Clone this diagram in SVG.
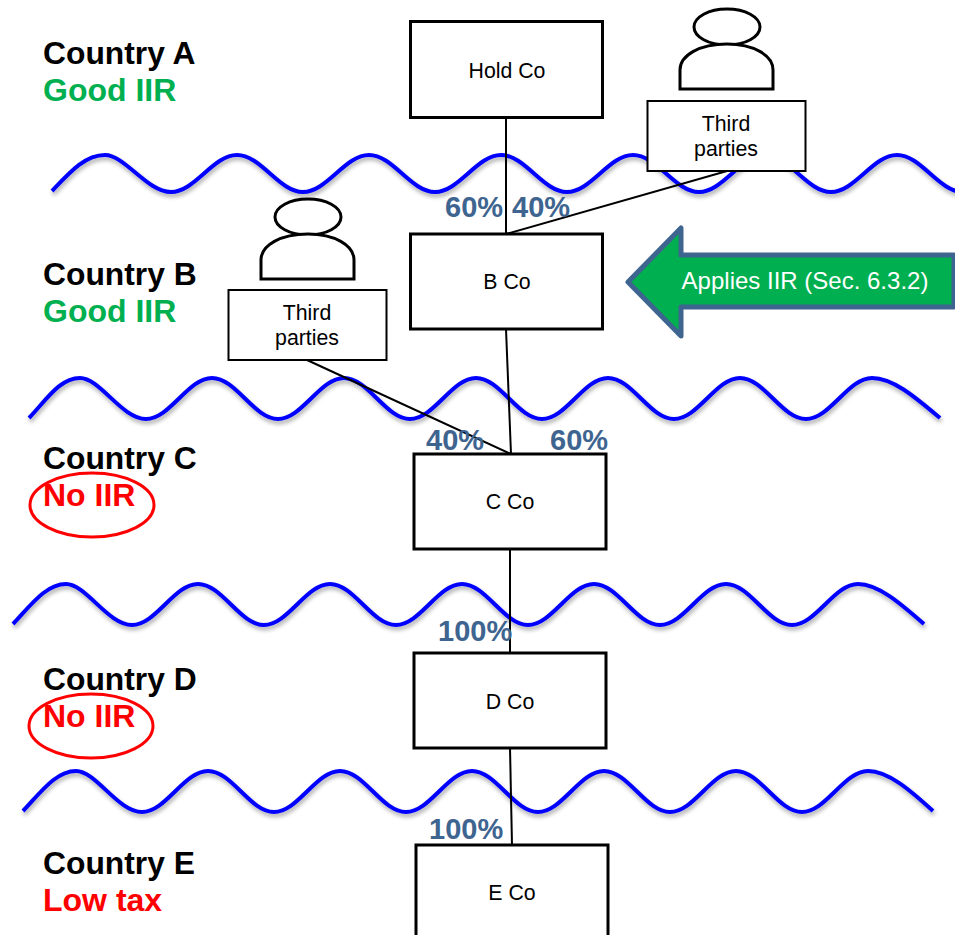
<svg xmlns="http://www.w3.org/2000/svg" xmlns:xlink="http://www.w3.org/1999/xlink" width="955" height="935" viewBox="0 0 955 935">
<style>
text{font-family:"Liberation Sans",Arial,sans-serif}
.box{fill:#fff;stroke:#000;stroke-width:3}
.tp{fill:#fff;stroke:#000;stroke-width:2}
.lbl{font-size:21.300px;fill:#000;text-anchor:middle}
.cn{font-size:31.800px;font-weight:700;fill:#000}
.good{font-size:32px;font-weight:700;fill:#00B050}
.bad{font-size:32px;font-weight:700;fill:#FF0000}
.pct{font-size:29px;font-weight:700;fill:#3E6490}
.wave{fill:none;stroke:#0000FF;stroke-width:4;filter:url(#sh)}
.conn{fill:none;stroke:#000;stroke-width:2}
.ring{fill:none;stroke:#FF0000;stroke-width:3}
.per{fill:#fff;stroke:#000;stroke-width:3}
</style>
<defs>
<filter id="sh" x="-5%" y="-30%" width="110%" height="170%">
<feDropShadow dx="1" dy="3" stdDeviation="2" flood-color="#000" flood-opacity="0.35"/>
</filter>
<g id="person">
<ellipse cx="727" cy="27" rx="33" ry="18" class="per"/>
<path d="M680 89V70C680 55 700 44 727 44C753 44 773 55 773 70V89Z" class="per"/>
</g>
</defs>
<g id="waves">
<path class="wave" d="M52 191C70 172 85 155 105 155s42 37 66 37s42 -37 66 -37s42 37 66 37s42 -37 66 -37s42 37 66 37s42 -37 66 -37s42 37 66 37s42 -37 66 -37s42 37 66 37s42 -37 66 -37s42 37 66 37s42 -37 66 -37s42 37 66 37"/>
<path class="wave" d="M29 418C47 399 60 378 80 378s42 41 66 41s42 -41 66 -41s42 41 66 41s42 -41 66 -41s42 41 66 41s42 -41 66 -41s42 41 66 41s42 -41 66 -41s42 41 66 41s42 -41 66 -41s42 41 66 41s42 -41 66 -41C893 378 915 397 940 418"/>
<path class="wave" d="M13 624C31 605 46 584 66 584s42 41 66 41s42 -41 66 -41s42 41 66 41s42 -41 66 -41s42 41 66 41s42 -41 66 -41s42 41 66 41s42 -41 66 -41s42 41 66 41s42 -41 66 -41s42 41 66 41s42 -41 66 -41C878 584 900 603 924 624"/>
<path class="wave" d="M23 811C41 792 56 771 76 771s42 41 66 41s42 -41 66 -41s42 41 66 41s42 -41 66 -41s42 41 66 41s42 -41 66 -41s42 41 66 41s42 -41 66 -41s42 41 66 41s42 -41 66 -41s42 41 66 41s42 -41 66 -41C888 771 910 790 933 811"/>
</g>
<g id="connectors">
<line class="conn" x1="506" y1="117" x2="506" y2="234"/>
<line class="conn" x1="727" y1="171" x2="506" y2="234"/>
<line class="conn" x1="506" y1="329" x2="511" y2="454"/>
<line class="conn" x1="307" y1="360" x2="511" y2="454"/>
<line class="conn" x1="510" y1="549" x2="510" y2="653"/>
<line class="conn" x1="510" y1="748" x2="512" y2="845"/>
</g>
<g id="country-a"><text class="cn" x="43" y="64">Country A</text><text class="good" x="43" y="101">Good IIR</text></g>
<g id="country-b"><text class="cn" x="43" y="285">Country B</text><text class="good" x="43" y="322">Good IIR</text></g>
<g id="country-c"><text class="cn" x="43" y="469">Country C</text><text class="bad" x="43" y="506">No IIR</text><ellipse class="ring" cx="92" cy="505" rx="62" ry="32"/></g>
<g id="country-d"><text class="cn" x="43" y="690">Country D</text><text class="bad" x="43" y="727">No IIR</text><ellipse class="ring" cx="91" cy="726" rx="62" ry="32"/></g>
<g id="country-e"><text class="cn" x="43" y="874">Country E</text><text class="bad" x="43" y="911">Low tax</text></g>
<g id="hold-co"><rect class="box" x="410.500" y="21.500" width="192" height="96"/><text class="lbl" x="507" y="78">Hold Co</text></g>
<g id="b-co"><rect class="box" x="410.500" y="234" width="192" height="95"/><text class="lbl" x="507" y="289">B Co</text></g>
<g id="c-co"><rect class="box" x="414" y="454" width="192" height="95"/><text class="lbl" x="510" y="509">C Co</text></g>
<g id="d-co"><rect class="box" x="414" y="653" width="192" height="95"/><text class="lbl" x="510" y="709">D Co</text></g>
<g id="e-co"><rect class="box" x="416" y="845" width="192" height="100"/><text class="lbl" x="512" y="900">E Co</text></g>
<g id="third-parties-1"><use xlink:href="#person" href="#person"/><rect class="tp" x="647.500" y="101" width="158" height="70"/><text class="lbl" x="726" y="131">Third</text><text class="lbl" x="726" y="156">parties</text></g>
<g id="third-parties-2"><use xlink:href="#person" href="#person" x="-419" y="190"/><rect class="tp" x="228.500" y="290" width="158" height="70"/><text class="lbl" x="307" y="320">Third</text><text class="lbl" x="307" y="345">parties</text></g>
<g id="percentages">
<text class="pct" x="445" y="217">60%</text><text class="pct" x="512" y="217">40%</text>
<text class="pct" x="426" y="450">40%</text><text class="pct" x="550" y="450">60%</text>
<text class="pct" x="438" y="641">100%</text><text class="pct" x="429" y="839">100%</text>
</g>
<g id="applies-iir">
<path d="M628 282L681 228V255H954V307H681V336Z" fill="#00B050" stroke="#3E6490" stroke-width="5" stroke-linejoin="round"/>
<text x="805" y="289" font-size="24" fill="#fff" text-anchor="middle">Applies IIR (Sec. 6.3.2)</text>
</g>
</svg>
